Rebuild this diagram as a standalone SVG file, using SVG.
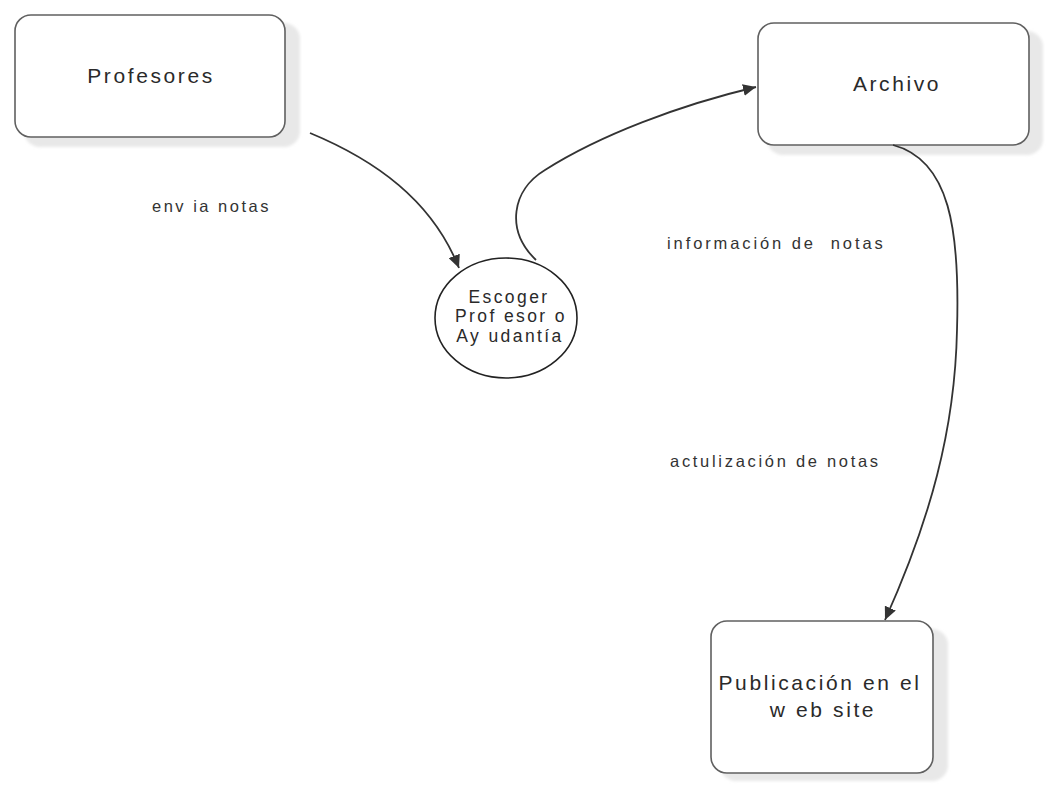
<svg xmlns="http://www.w3.org/2000/svg" width="1046" height="785" viewBox="0 0 1046 785">
<style>
.box{fill:#fff;stroke:#606060;stroke-width:1.6}
.shadow{fill:#e8e8e8}
.node-text{font-family:"Liberation Sans",Arial,sans-serif;font-size:21px;fill:#2a2a2a;letter-spacing:2.6px}
.ell-text{font-family:"Liberation Sans",Arial,sans-serif;font-size:17.5px;fill:#2a2a2a;letter-spacing:2.4px}
.label{font-family:"Liberation Sans",Arial,sans-serif;font-size:16.5px;fill:#333;letter-spacing:2.9px}
.conn{fill:none;stroke:#333;stroke-width:1.8}
</style>
<defs>
<marker id="arrow" markerUnits="userSpaceOnUse" markerWidth="14" markerHeight="12" refX="13" refY="6" orient="auto">
<path d="M0,0 L13,6 L0,12 z" fill="#333"/>
</marker>
<filter id="soft" x="-5%" y="-5%" width="110%" height="110%">
<feGaussianBlur stdDeviation="1.5"/>
</filter>
</defs>
<rect width="1046" height="785" fill="#fff"/>

<g id="profesores">
<rect class="shadow" x="24" y="23" width="276" height="124" rx="16" filter="url(#soft)"/>
<rect class="box" x="15" y="15" width="270" height="122" rx="16"/>
<text class="node-text" x="151" y="83" text-anchor="middle">Profesores</text>
</g>

<g id="archivo">
<rect class="shadow" x="767" y="31" width="276" height="124" rx="16" filter="url(#soft)"/>
<rect class="box" x="758" y="23" width="271" height="122" rx="16"/>
<text class="node-text" x="897" y="91" text-anchor="middle">Archivo</text>
</g>

<g id="escoger">
<ellipse cx="506" cy="318" rx="71" ry="60" fill="#fff" stroke="#222" stroke-width="1.6"/>
<text class="ell-text" text-anchor="middle"><tspan x="509" y="303">Escoger</tspan><tspan x="511" y="322">Prof esor o</tspan><tspan x="510" y="342">Ay udantía</tspan></text>
</g>

<g id="publicacion">
<rect class="shadow" x="720" y="629" width="228" height="152" rx="16" filter="url(#soft)"/>
<rect class="box" x="711" y="621" width="222" height="152" rx="16"/>
<text class="node-text" text-anchor="middle"><tspan x="820" y="690">Publicación en el</tspan><tspan x="823" y="717">w eb site</tspan></text>
</g>

<g id="connectors">
<path class="conn" d="M310,133 C375,160 432,200 459,268" marker-end="url(#arrow)"/>
<path class="conn" d="M536,260 C505,230 512,190 545,170 C600,135 680,105 756,87" marker-end="url(#arrow)"/>
<path class="conn" d="M893,145 C950,160 960,230 957,330 C955,430 930,520 885,620" marker-end="url(#arrow)"/>
</g>

<g id="labels">
<text class="label" x="152" y="212" style="letter-spacing:2.5px">env ia notas</text>
<text class="label" x="667" y="249" xml:space="preserve">información de  notas</text>
<text class="label" x="670" y="467" style="letter-spacing:2.7px">actulización de notas</text>
</g>
</svg>
